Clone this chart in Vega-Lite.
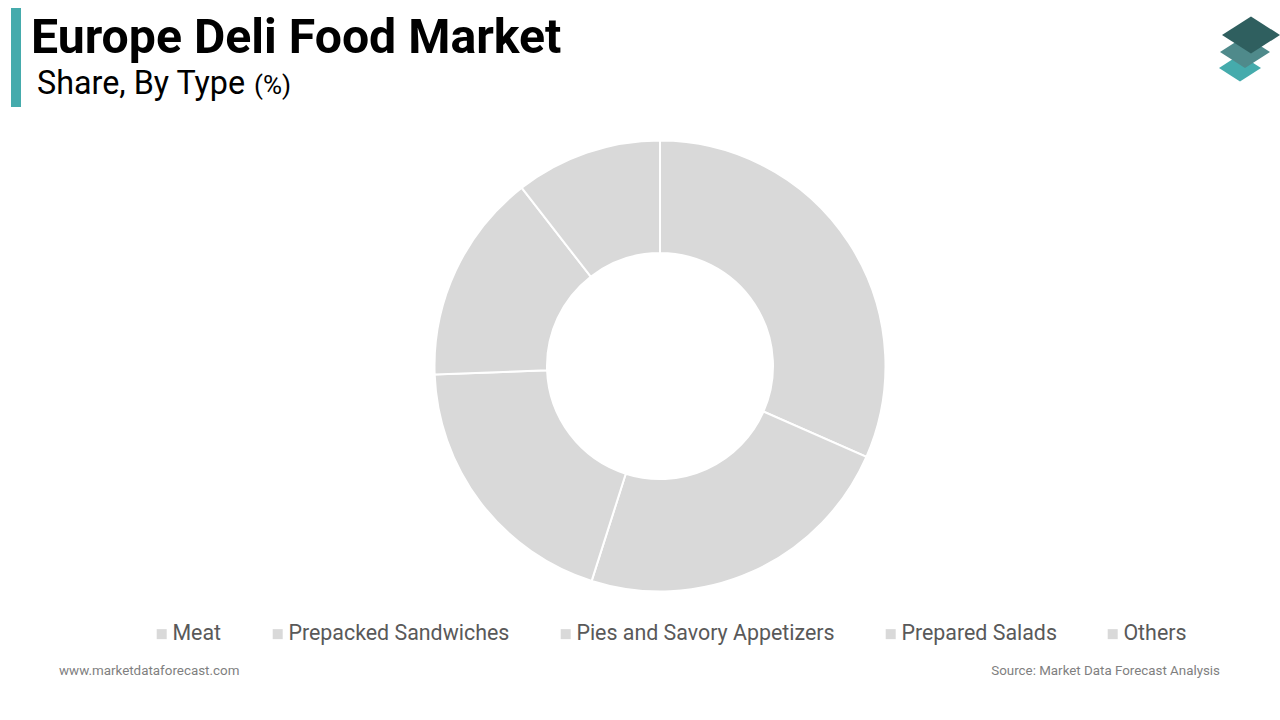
{
  "$schema": "https://vega.github.io/schema/vega-lite/v6.json",
  "description": "Europe Deli Food Market share by type, donut chart.",
  "width": 1280,
  "height": 720,
  "autosize": {"type": "fit", "contains": "padding"},
  "padding": 0,
  "background": "white",
  "view": {"stroke": "transparent"},
  "datasets": {
    "shares": [
      {"type": "Meat", "share": 31.6, "rank": 1},
      {"type": "Prepacked Sandwiches", "share": 23.3, "rank": 2},
      {"type": "Pies and Savory Appetizers", "share": 19.5, "rank": 3},
      {"type": "Prepared Salads", "share": 15.1, "rank": 4},
      {"type": "Others", "share": 10.5, "rank": 5}
    ]
  },
  "layer": [
    {
      "data": {"name": "shares"},
      "mark": {"type": "arc", "innerRadius": 113, "outerRadius": 225.5, "x": 660, "y": 366, "stroke": "white", "strokeWidth": 2},
      "encoding": {
        "theta": {"field": "share", "type": "quantitative", "stack": true},
        "order": {"field": "rank", "type": "ordinal"},
        "color": {
          "field": "type",
          "type": "nominal",
          "sort": ["Meat", "Prepacked Sandwiches", "Pies and Savory Appetizers", "Prepared Salads", "Others"],
          "scale": {"range": ["#d9d9d9"]},
          "legend": {
            "title": null,
            "orient": "none",
            "legendX": 151,
            "legendY": 623,
            "direction": "horizontal",
            "columns": 5,
            "columnPadding": 45,
            "symbolType": "square",
            "symbolSize": 100,
            "symbolStrokeWidth": 0,
            "labelOffset": 0,
            "labelFont": "Roboto",
            "labelFontSize": 21.4,
            "labelColor": "#595959",
            "labelLimit": 400
          }
        }
      }
    },
    {
      "data": {"values": [{}]},
      "mark": {"type": "bar", "x": 11, "x2": 21, "y": 8, "y2": 107, "color": "#45abac"},
      "encoding": {}
    },
    {
      "data": {"values": [{"label": "Europe Deli Food Market"}]},
      "mark": {"type": "text", "x": 31, "y": 53, "align": "left", "baseline": "alphabetic", "font": "Roboto", "fontWeight": "bold", "fontSize": 48.2, "color": "black"},
      "encoding": {"text": {"field": "label"}}
    },
    {
      "data": {"values": [{"label": "Share, By Type"}]},
      "mark": {"type": "text", "x": 37, "y": 94, "align": "left", "baseline": "alphabetic", "font": "Roboto", "fontSize": 32.3, "color": "black"},
      "encoding": {"text": {"field": "label"}}
    },
    {
      "data": {"values": [{"label": "(%)"}]},
      "mark": {"type": "text", "x": 254, "y": 94, "align": "left", "baseline": "alphabetic", "font": "Roboto", "fontSize": 26, "color": "black"},
      "encoding": {"text": {"field": "label"}}
    },
    {
      "data": {"values": [{"label": "www.marketdataforecast.com"}]},
      "mark": {"type": "text", "x": 59, "y": 675, "align": "left", "baseline": "alphabetic", "font": "Roboto", "fontSize": 13.4, "color": "#7f7f7f"},
      "encoding": {"text": {"field": "label"}}
    },
    {
      "data": {"values": [{"label": "Source: Market Data Forecast Analysis"}]},
      "mark": {"type": "text", "x": 1220, "y": 675, "align": "right", "baseline": "alphabetic", "font": "Roboto", "fontSize": 13.35, "color": "#7f7f7f"},
      "encoding": {"text": {"field": "label"}}
    },
    {
      "data": {"values": [{}]},
      "mark": {"type": "point", "x": 1240, "y": 68, "filled": true, "opacity": 1, "color": "#45abac", "size": 1764, "shape": "M-1,0L0,-0.64L1,0L0,0.64Z"},
      "encoding": {}
    },
    {
      "data": {"values": [{}]},
      "mark": {"type": "point", "x": 1245, "y": 52, "filled": true, "opacity": 1, "color": "#4f8a8b", "size": 2500, "shape": "M-1,0L0,-0.64L1,0L0,0.64Z"},
      "encoding": {}
    },
    {
      "data": {"values": [{}]},
      "mark": {"type": "point", "x": 1251, "y": 35, "filled": true, "opacity": 1, "color": "#2f5f5f", "size": 3364, "shape": "M-1,0L0,-0.64L1,0L0,0.64Z"},
      "encoding": {}
    }
  ],
  "resolve": {"scale": {"color": "independent"}}
}
